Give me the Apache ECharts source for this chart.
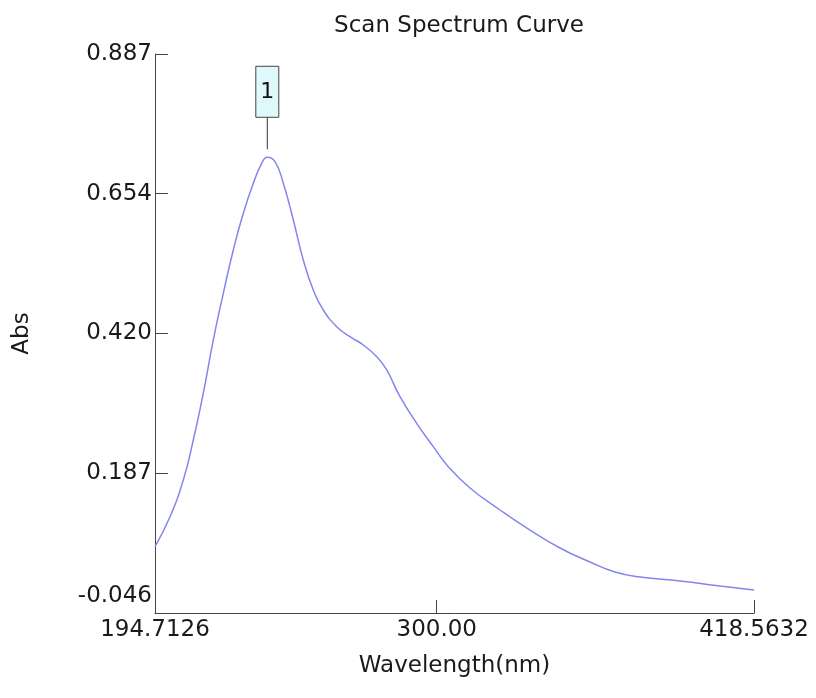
<!DOCTYPE html>
<html>
<head>
<meta charset="utf-8">
<script src="https://cdn.jsdelivr.net/npm/echarts@6/dist/echarts.min.js"></script>
<style>
  html, body { margin: 0; padding: 0; background: #fff; }
  #chart { width: 816px; height: 698px; }
</style>
</head>
<body>
<div id="chart"></div>
<script>
// wavelength (nm) and absorbance
var wavelength = [194.71, 200.32, 205.29, 209.03, 212.76, 216.50, 220.24, 223.97, 227.71, 231.45,
  234.59, 236.68, 239.56, 242.66, 246.40, 250.13, 253.87, 257.61, 262.62, 267.59,
  272.56, 277.56, 281.30, 286.27, 292.51, 298.71, 304.32, 312.43, 323.64, 334.85,
  346.06, 357.27, 366.62, 375.96, 390.91, 405.86, 418.56];
var absorbance = [0.0647, 0.1147, 0.1760, 0.2428, 0.3207, 0.4097, 0.4876, 0.5599, 0.6211, 0.6712,
  0.7046, 0.7146, 0.7073, 0.6712, 0.6100, 0.5432, 0.4931, 0.4597, 0.4319, 0.4152,
  0.4013, 0.3818, 0.3596, 0.3150, 0.2706, 0.2316, 0.1982, 0.1626, 0.1259, 0.0925,
  0.0625, 0.0391, 0.0224, 0.0141, 0.0074, -0.0009, -0.0076];

var xTicks = [194.7126, 300, 418.5632];
var xTickLabels = ['194.7126', '300.00', '418.5632'];
var yTicks = [-0.046, 0.18725, 0.4205, 0.65375, 0.887];
var yTickLabels = ['-0.046', '0.187', '0.420', '0.654', '0.887'];

// peak marker "1"
var peaks = [[236.68, 0.7146, '1']];

var points = wavelength.map(function (w, i) { return [w, absorbance[i]]; });

var chart = echarts.init(document.getElementById('chart'));
var font = 'DejaVu Sans';
var axisCol = '#444';
var txtCol = '#1a1a1a';

chart.setOption({
  animation: false,
  title: {
    text: 'Scan Spectrum Curve',
    left: 454, top: 10, textAlign: 'center',
    textStyle: { fontFamily: font, fontSize: 23, fontWeight: 'normal', color: txtCol }
  },
  grid: { left: 155, right: 62, top: 54, bottom: 85 },
  xAxis: {
    type: 'value',
    min: xTicks[0], max: xTicks[xTicks.length - 1],
    name: 'Wavelength(nm)', nameLocation: 'middle', nameGap: 42,
    nameTextStyle: { fontFamily: font, fontSize: 23, color: txtCol },
    axisLine: { onZero: false, lineStyle: { color: axisCol, width: 1 } },
    axisTick: { inside: true, length: 13, customValues: xTicks, lineStyle: { color: axisCol } },
    axisLabel: {
      customValues: xTicks, margin: 6,
      fontFamily: font, fontSize: 23, color: txtCol,
      formatter: function (v) {
        var i = xTicks.indexOf(v);
        return i >= 0 ? xTickLabels[i] : '';
      }
    },
    splitLine: { show: false }
  },
  yAxis: {
    type: 'value',
    min: yTicks[0], max: yTicks[yTicks.length - 1],
    name: 'Abs', nameLocation: 'middle', nameGap: 121,
    nameTextStyle: { fontFamily: font, fontSize: 23, color: txtCol },
    axisLine: { show: true, onZero: false, lineStyle: { color: axisCol, width: 1 } },
    axisTick: { show: true, inside: true, length: 13, customValues: yTicks, lineStyle: { color: axisCol } },
    axisLabel: {
      customValues: yTicks, margin: 3,
      fontFamily: font, fontSize: 23, color: txtCol,
      formatter: function (v) {
        var i = yTicks.indexOf(v);
        if (i === 0) return '{low|' + yTickLabels[0] + '}';
        return i >= 0 ? yTickLabels[i] : '';
      },
      rich: {
        low: { fontFamily: font, fontSize: 23, color: txtCol, padding: [0, 0, 34, 0] }
      }
    },
    splitLine: { show: false }
  },
  series: [
    {
      type: 'line',
      data: points,
      smooth: 0.5,
      showSymbol: false,
      lineStyle: { color: '#8585ee', width: 1.5 }
    },
    {
      type: 'custom',
      clip: false,
      data: peaks,
      renderItem: function (params, api) {
        var p = api.coord([api.value(0), api.value(1)]);
        return {
          type: 'group',
          children: [
            { type: 'line', shape: { x1: p[0], y1: p[1] - 8, x2: p[0], y2: p[1] - 40 },
              style: { stroke: '#333', lineWidth: 1 } },
            { type: 'rect', shape: { x: p[0] - 11.5, y: p[1] - 91, width: 23, height: 51 },
              style: { fill: '#dff8fb', stroke: '#444', lineWidth: 1 } },
            { type: 'text', x: p[0], y: p[1] - 65.5,
              style: { text: peaks[params.dataIndex][2], fontFamily: font, fontSize: 22,
                fill: '#111', align: 'center', verticalAlign: 'middle' } }
          ]
        };
      }
    }
  ]
});
</script>
</body>
</html>
